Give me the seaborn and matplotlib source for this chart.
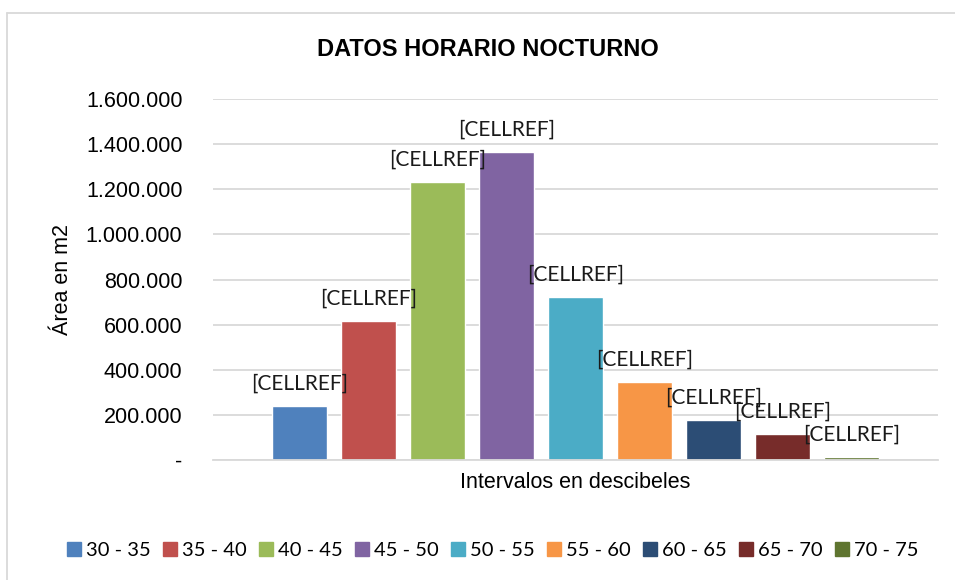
import matplotlib
matplotlib.use("Agg")
import matplotlib.pyplot as plt
from matplotlib.ticker import FuncFormatter, MultipleLocator
from matplotlib.lines import Line2D
import seaborn as sns
import pandas as pd

# Data
intervals = ["30 - 35", "35 - 40", "40 - 45", "45 - 50", "50 - 55",
             "55 - 60", "60 - 65", "65 - 70", "70 - 75"]
area_m2 = [239000, 616000, 1232000, 1365000, 722000, 346000, 177000, 115000, 13000]
bar_labels = ["[CELLREF]"] * len(intervals)
colors = ["#4f81bd", "#c0504d", "#9bbb59", "#8064a2", "#4bacc6",
          "#f79646", "#2c4d75", "#772c2a", "#5f7530"]

df = pd.DataFrame({"grupo": ["Intervalos"] * len(intervals),
                   "intervalo": intervals, "area": area_m2})

sns.set_style("white")
plt.rcParams["font.family"] = ["Liberation Sans", "DejaVu Sans"]
plt.rcParams["text.color"] = "black"
plt.rcParams["axes.labelcolor"] = "black"

fig = plt.figure(figsize=(9.55, 5.8), dpi=100)
W, H = 955, 580
ax = fig.add_axes([213 / W, (H - 460) / H, (938 - 213) / W, (460 - 99) / H])

sns.barplot(data=df, x="grupo", y="area", hue="intervalo", hue_order=intervals,
            palette=colors, width=0.8, gap=0.2, saturation=1, legend=False, ax=ax)

ax.set_ylim(0, 1600000)
ax.set_xlim(-0.467, 0.467)
ax.yaxis.set_major_locator(MultipleLocator(200000))
ax.yaxis.set_major_formatter(FuncFormatter(
    lambda v, p: "-" if v == 0 else f"{v:,.0f}".replace(",", ".")))
ax.grid(axis="y", color="#d9d9d9", linewidth=1.3)
ax.set_axisbelow(True)
for s in ["top", "right", "left"]:
    ax.spines[s].set_visible(False)
ax.spines["bottom"].set_color("#d9d9d9")
ax.spines["bottom"].set_linewidth(1.3)
ax.set_xticks([])
ax.tick_params(axis="y", length=0, pad=22, labelsize=15.5, labelcolor="black")

for cont, lab in zip(ax.containers, bar_labels):
    ax.bar_label(cont, labels=[lab], padding=9, fontsize=15,
                 family=["Lato", "DejaVu Sans"], color="#1a1a1a")

ax.set_xlabel("Intervalos en descibeles", fontsize=15.5, labelpad=9)
ax.set_ylabel("Área en m2", fontsize=15.5, labelpad=9)
fig.text(488 / W, 1 - 50 / H, "DATOS HORARIO NOCTURNO", fontsize=17,
         fontweight="bold", ha="center", va="center")

handles = [Line2D([], [], marker="s", linestyle="", markersize=10,
                  markerfacecolor=c, markeredgecolor=c) for c in colors]
fig.legend(handles, intervals, loc="center", bbox_to_anchor=(492 / W, 1 - 550 / H),
           ncol=len(intervals), frameon=False, handlelength=0.8, handletextpad=0.2,
           columnspacing=0.55, prop={"family": ["Lato", "DejaVu Sans"], "size": 14.5})

# chart-area border (light gray, top and left only as seen)
fig.add_artist(Line2D([7 / W, 1], [1 - 13 / H, 1 - 13 / H], color="#d9d9d9",
                      linewidth=1.3, transform=fig.transFigure))
fig.add_artist(Line2D([7 / W, 7 / W], [0, 1 - 13 / H], color="#d9d9d9",
                      linewidth=1.3, transform=fig.transFigure))

fig.savefig("out.png", dpi=100)
